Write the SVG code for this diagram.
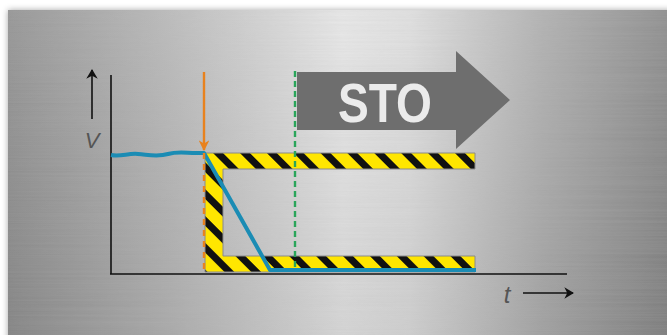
<svg xmlns="http://www.w3.org/2000/svg" width="667" height="335" viewBox="0 0 667 335">
  <defs>
    <linearGradient id="metal" x1="0" y1="0" x2="1" y2="0">
      <stop offset="0" stop-color="#8e8e8e"/>
      <stop offset="0.25" stop-color="#b8b8b8"/>
      <stop offset="0.5" stop-color="#e6e6e6"/>
      <stop offset="0.6" stop-color="#dedede"/>
      <stop offset="0.8" stop-color="#acacac"/>
      <stop offset="1" stop-color="#848484"/>
    </linearGradient>
    <linearGradient id="vshade" x1="0" y1="0" x2="0" y2="1">
      <stop offset="0" stop-color="#ffffff" stop-opacity="0.08"/>
      <stop offset="1" stop-color="#000000" stop-opacity="0.08"/>
    </linearGradient>
    <filter id="brush" x="0" y="0" width="1" height="1">
      <feTurbulence type="fractalNoise" baseFrequency="0.004 0.6" numOctaves="2" seed="3" result="n"/>
      <feColorMatrix in="n" type="matrix" values="0 0 0 0 0.5  0 0 0 0 0.5  0 0 0 0 0.5  0 0 0 0.35 -0.05"/>
    </filter>
    <filter id="shadow" x="-5%" y="-10%" width="110%" height="120%">
      <feDropShadow dx="0" dy="0" stdDeviation="3" flood-color="#000" flood-opacity="0.35"/>
    </filter>
    <pattern id="hazard" patternUnits="userSpaceOnUse" width="19" height="19" patternTransform="translate(213,153) rotate(-45)">
      <rect width="19" height="19" fill="#ffe600"/>
      <rect width="7" height="19" fill="#111"/>
    </pattern>
    <marker id="blackHead" viewBox="0 0 10 12" refX="9" refY="6" markerWidth="6" markerHeight="7.2" orient="auto" markerUnits="strokeWidth">
      <path d="M0,0 L10,6 L0,12 L3,6 Z" fill="#111"/>
    </marker>
    <marker id="orangeHead" viewBox="0 0 10 10" refX="9" refY="5" markerWidth="4.5" markerHeight="4.5" orient="auto" markerUnits="strokeWidth">
      <path d="M0,0 L10,5 L0,10 L3,5 Z" fill="#e8821e"/>
    </marker>
    <style>
      .axis { stroke: #111; stroke-width: 1.6; fill: none; }
      .lbl { font-family: "Liberation Sans", Arial, sans-serif; font-style: italic; fill: #555; }
    </style>
  </defs>

  <rect width="667" height="335" fill="#ffffff"/>

  <g id="panel">
    <rect x="8" y="10" width="670" height="340" fill="url(#metal)" filter="url(#shadow)"/>
    <rect x="8" y="10" width="670" height="340" fill="url(#vshade)"/>
    <rect x="8" y="10" width="670" height="340" filter="url(#brush)" opacity="0.6"/>
  </g>

  <g id="sto-arrow">
    <path d="M297,72 H456 V51 L510,100 L456,149 V130 H297 Z" fill="#6e6e6e"/>
    <text x="385" y="122" text-anchor="middle" font-family="Liberation Sans, Arial, sans-serif" font-weight="bold" font-size="56" fill="#ebebeb" textLength="94" lengthAdjust="spacingAndGlyphs">STO</text>
  </g>

  <g id="hazard-zone">
    <path d="M205,153 H475 V169 H223 V256 H475 V272 H205 Z" fill="url(#hazard)" stroke="#8a8a8a" stroke-width="1"/>
  </g>

  <g id="axes">
    <line class="axis" x1="111" y1="75" x2="111" y2="274"/>
    <line class="axis" x1="110" y1="274" x2="567" y2="274"/>
  </g>

  <g id="labels">
    <text class="lbl" x="92" y="148" font-size="22" text-anchor="middle">V</text>
    <text class="lbl" x="507" y="303" font-size="24" text-anchor="middle">t</text>
  </g>

  <g id="connectors">
    <line x1="92" y1="119" x2="92" y2="70" stroke="#111" stroke-width="1.6" marker-end="url(#blackHead)"/>
    <line x1="523" y1="293" x2="573" y2="293" stroke="#111" stroke-width="1.6" marker-end="url(#blackHead)"/>
    <line x1="295" y1="71" x2="295" y2="272" stroke="#2aa55a" stroke-width="2.4" stroke-dasharray="6,4"/>
    <path d="M111,155 C121,157 128,153 138,154 C150,155 158,157 168,154 C178,151 186,153 196,153 L204,153 L270,270 L476,270" fill="none" stroke="#1b8cb4" stroke-width="4" stroke-linejoin="round"/>
    <line x1="204" y1="72" x2="204" y2="150" stroke="#e8821e" stroke-width="2.4" marker-end="url(#orangeHead)"/>
    <line x1="204" y1="153" x2="204" y2="273" stroke="#e8821e" stroke-width="2.4" stroke-dasharray="6,5"/>
  </g>
</svg>
